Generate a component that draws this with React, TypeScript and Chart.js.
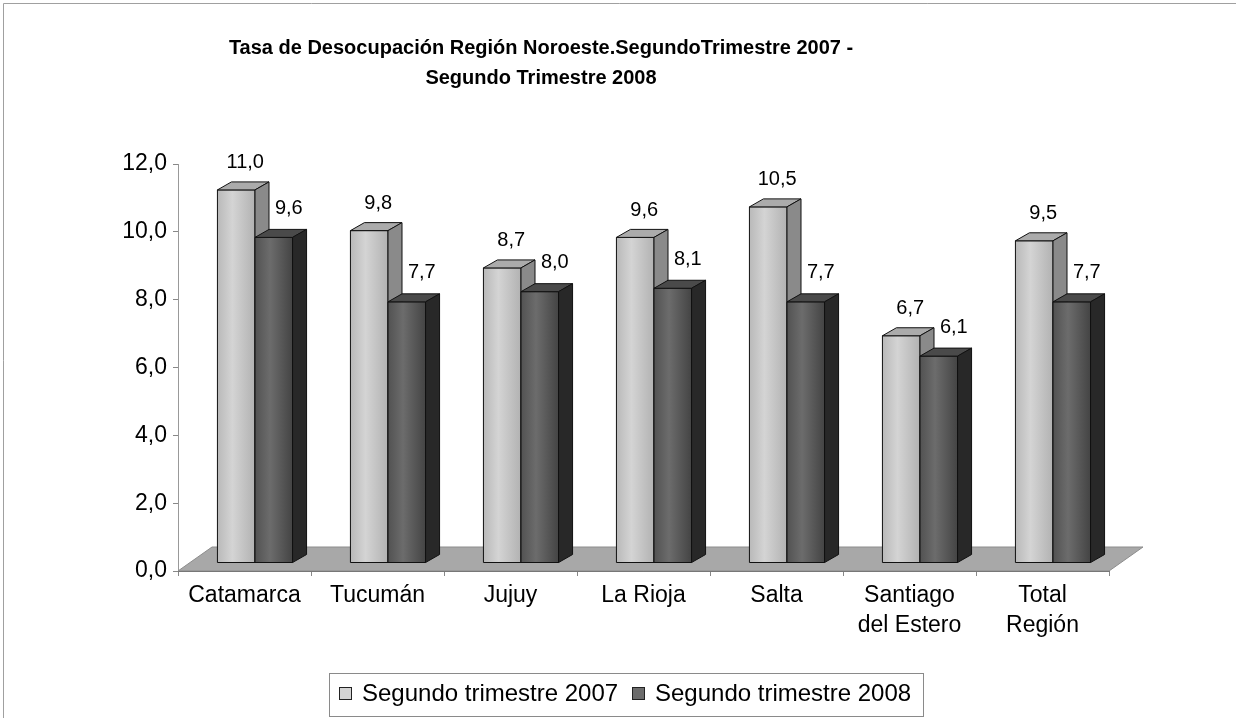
import React, { useEffect, useRef } from 'react';
import { Chart, registerables } from 'chart.js';

Chart.register(...registerables);

// ---- data ----
const categories: (string | string[])[] = [
  'Catamarca',
  'Tucumán',
  'Jujuy',
  'La Rioja',
  'Salta',
  ['Santiago', 'del Estero'],
  ['Total', 'Región'],
];
const seriesNames = ['Segundo trimestre 2007', 'Segundo trimestre 2008'];
const values2007 = [11.0, 9.8, 8.7, 9.6, 10.5, 6.7, 9.5];
const values2008 = [9.6, 7.7, 8.0, 8.1, 7.7, 6.1, 7.7];
const yTickValues = [0, 2, 4, 6, 8, 10, 12];
const titleLines = [
  'Tasa de Desocupación Región Noroeste.SegundoTrimestre 2007 -',
  'Segundo Trimestre 2008',
];

// ---- styles ----
const FONT = '"Liberation Sans", Arial, sans-serif';
const W = 1236;
const H = 718;
const BAR_SHIFT = { x: 10.5, y: -8 };
const BAR_DEPTH = { x: 14, y: -8 };
const FLOOR_DEPTH = { x: 34, y: -24 };
const faces = [
  { front: ['#b9b9b9', '#d4d4d4', '#b2b2b2'], top: '#ababab', side: '#8a8a8a', label: { x: 9, y: -27 } },
  { front: ['#525252', '#6c6c6c', '#444444'], top: '#4a4a4a', side: '#282828', label: { x: 15, y: -29 } },
];

const fmt = (v: number) => v.toFixed(1).replace('.', ',');

const threeD = {
  id: 'threeD',
  beforeDatasetsDraw(chart: any) {
    const ctx: CanvasRenderingContext2D = chart.ctx;
    const { left, right, bottom } = chart.chartArea;
    ctx.save();
    // floor
    ctx.beginPath();
    ctx.moveTo(left, bottom);
    ctx.lineTo(right, bottom);
    ctx.lineTo(right + FLOOR_DEPTH.x, bottom + FLOOR_DEPTH.y);
    ctx.lineTo(left + FLOOR_DEPTH.x, bottom + FLOOR_DEPTH.y);
    ctx.closePath();
    ctx.fillStyle = '#a8a8a8';
    ctx.fill();
    ctx.strokeStyle = '#8c8c8c';
    ctx.lineWidth = 1;
    ctx.stroke();
    ctx.beginPath();
    ctx.moveTo(left, bottom + 0.5);
    ctx.lineTo(right, bottom + 0.5);
    ctx.strokeStyle = '#777';
    ctx.stroke();

    const n = chart.data.labels.length;
    const labels: { text: string; x: number; y: number }[] = [];
    for (let i = 0; i < n; i++) {
      chart.data.datasets.forEach((ds: any, d: number) => {
        const el = chart.getDatasetMeta(d).data[i];
        const p = el.getProps(['x', 'y', 'base', 'width'], true);
        const f = faces[d];
        const L = p.x - p.width / 2 + BAR_SHIFT.x;
        const R = p.x + p.width / 2 + BAR_SHIFT.x;
        const T = p.y + BAR_SHIFT.y;
        const B = p.base + BAR_SHIFT.y;
        ctx.lineWidth = 1;
        ctx.strokeStyle = '#111';
        ctx.lineJoin = 'round';
        // front
        const g = ctx.createLinearGradient(L, 0, R, 0);
        g.addColorStop(0, f.front[0]);
        g.addColorStop(0.4, f.front[1]);
        g.addColorStop(1, f.front[2]);
        ctx.fillStyle = g;
        ctx.beginPath();
        ctx.rect(L, T, R - L, B - T);
        ctx.fill();
        ctx.stroke();
        // top
        ctx.beginPath();
        ctx.moveTo(L, T);
        ctx.lineTo(R, T);
        ctx.lineTo(R + BAR_DEPTH.x, T + BAR_DEPTH.y);
        ctx.lineTo(L + BAR_DEPTH.x, T + BAR_DEPTH.y);
        ctx.closePath();
        ctx.fillStyle = f.top;
        ctx.fill();
        ctx.stroke();
        // side
        ctx.beginPath();
        ctx.moveTo(R, T);
        ctx.lineTo(R + BAR_DEPTH.x, T + BAR_DEPTH.y);
        ctx.lineTo(R + BAR_DEPTH.x, B + BAR_DEPTH.y);
        ctx.lineTo(R, B);
        ctx.closePath();
        ctx.fillStyle = f.side;
        ctx.fill();
        ctx.stroke();
        labels.push({
          text: fmt(ds.data[i]),
          x: (L + R) / 2 + f.label.x,
          y: T + f.label.y,
        });
      });
    }
    ctx.fillStyle = '#000';
    ctx.font = `20px ${FONT}`;
    ctx.textAlign = 'center';
    ctx.textBaseline = 'middle';
    labels.forEach((l) => ctx.fillText(l.text, l.x, l.y));
    ctx.restore();
    return false;
  },
  afterDraw(chart: any) {
    const ctx: CanvasRenderingContext2D = chart.ctx;
    ctx.save();
    // outer frame (cropped chart border)
    ctx.strokeStyle = '#a0a0a0';
    ctx.lineWidth = 1;
    ctx.beginPath();
    ctx.moveTo(3.5, H);
    ctx.lineTo(3.5, 3.5);
    ctx.lineTo(W, 3.5);
    ctx.stroke();
    // title
    ctx.fillStyle = '#000';
    ctx.font = `bold 20px ${FONT}`;
    ctx.textAlign = 'center';
    ctx.textBaseline = 'middle';
    titleLines.forEach((t, i) => ctx.fillText(t, 541, 48 + i * 30));
    // legend
    ctx.strokeStyle = '#8a8a8a';
    ctx.strokeRect(329.5, 673.5, 594, 43);
    const items = [
      { x: 339, name: seriesNames[0], color: faces[0].front[1] },
      { x: 632, name: seriesNames[1], color: faces[1].front[1] },
    ];
    ctx.font = `24px ${FONT}`;
    ctx.textAlign = 'left';
    items.forEach((it) => {
      ctx.fillStyle = it.color;
      ctx.fillRect(it.x, 687, 13, 13);
      ctx.strokeStyle = '#222';
      ctx.strokeRect(it.x + 0.5, 687.5, 12, 12);
      ctx.fillStyle = '#000';
      ctx.fillText(it.name, it.x + 23, 694);
    });
    ctx.restore();
  },
};

export default function App() {
  const ref = useRef<HTMLCanvasElement>(null);
  useEffect(() => {
    if (!ref.current) return;
    const chart = new Chart(ref.current, {
      type: 'bar',
      data: {
        labels: categories,
        datasets: [
          { label: seriesNames[0], data: values2007, backgroundColor: faces[0].front[1] },
          { label: seriesNames[1], data: values2008, backgroundColor: faces[1].front[1] },
        ],
      },
      options: {
        animation: false,
        responsive: true,
        maintainAspectRatio: false,
        events: [],
        layout: { padding: { top: 164, right: W - 1109, left: 0, bottom: 0 } },
        datasets: { bar: { categoryPercentage: 0.565, barPercentage: 1 } },
        plugins: { legend: { display: false }, title: { display: false }, tooltip: { enabled: false } },
        scales: {
          x: {
            afterFit: (s: any) => { s.height = H - 571; },
            grid: { drawOnChartArea: false, drawTicks: true, tickLength: 5, color: '#888', offset: true },
            border: { display: true, color: '#777' },
            ticks: { color: '#000', font: { family: FONT, size: 23, lineHeight: 1.3 }, padding: 5, maxRotation: 0, autoSkip: false },
          },
          y: {
            min: 0,
            max: 12,
            afterFit: (s: any) => { s.width = 178; },
            afterBuildTicks: (s: any) => { s.ticks = yTickValues.map((v) => ({ value: v })); },
            grid: { drawOnChartArea: false, drawTicks: true, tickLength: 5, color: '#888' },
            border: { display: true, color: '#999' },
            ticks: { color: '#000', font: { family: FONT, size: 23 }, padding: 6, callback: (v: any) => fmt(Number(v)) },
          },
        },
      },
      plugins: [threeD],
    });
    return () => chart.destroy();
  }, []);
  return (
    <div style={{ position: 'fixed', left: 0, top: 0, width: W, height: H, background: '#fff' }}>
      <canvas ref={ref} />
    </div>
  );
}
